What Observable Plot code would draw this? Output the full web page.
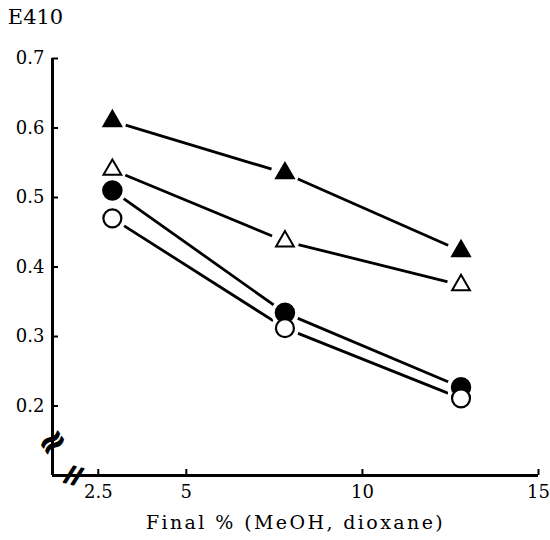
<!DOCTYPE html>
<html>
<head>
<meta charset="utf-8">
<script src="https://cdn.jsdelivr.net/npm/d3@7"></script>
<script src="https://cdn.jsdelivr.net/npm/@observablehq/plot@0.6"></script>
<style>
  html, body { margin: 0; padding: 0; background: #fff; }
  #chart svg { display: block; }
  .xtitle text { letter-spacing: 2.4px; }
</style>
</head>
<body>
<div id="chart"></div>
<script>
// Data
const finalPercent = [2.9, 7.8, 12.8];
const filledTriangle = [0.61, 0.535, 0.423];
const openTriangle = [0.54, 0.437, 0.374];
const filledCircle = [0.51, 0.334, 0.227];
const openCircle = [0.47, 0.312, 0.211];
const xTicks = [2.5, 5, 10, 15];
const yTicks = [0.2, 0.3, 0.4, 0.5, 0.6, 0.7];
const yTitle = "E410";
const xTitle = "Final % (MeOH, dioxane)";
const xBreak = [{x: 1.8, y: 0.1}];
const yBreak = [{x: 1.2, y: 0.148}];

const seriesDefs = [
  {name: "filledTriangle", values: filledTriangle, symbol: "triangle", filled: true},
  {name: "openTriangle", values: openTriangle, symbol: "triangle", filled: false},
  {name: "filledCircle", values: filledCircle, symbol: "circle", filled: true},
  {name: "openCircle", values: openCircle, symbol: "circle", filled: false}
];
const rows = seriesDefs.flatMap(s => s.values.map((v, i) => ({series: s.name, x: finalPercent[i], y: v, symbol: s.symbol, filled: s.filled})));

const font = "'DejaVu Serif', 'Liberation Serif', serif";

const chart = Plot.plot({
  width: 550,
  height: 540,
  marginLeft: 52,
  marginRight: 12,
  marginTop: 58,
  marginBottom: 65,
  style: {fontFamily: font, fontSize: "18px", color: "#000", background: "#fff"},
  x: {domain: [1.2, 15]},
  y: {domain: [0.1, 0.7]},
  marks: [
    Plot.axisX({ticks: xTicks, tickFormat: d => String(d), tickSize: -6, tickPadding: 16, strokeWidth: 2, label: null, fontSize: 18}),
    Plot.axisY({ticks: yTicks, tickFormat: d => d.toFixed(1), tickSize: -6, tickPadding: 14, strokeWidth: 2, label: null, fontSize: 18}),
    Plot.ruleX([1.2], {strokeWidth: 3}),
    Plot.ruleY([0.1], {strokeWidth: 3}),
    Plot.line(rows, {x: "x", y: "y", z: "series", stroke: "#000", strokeWidth: 2.8}),
    Plot.dot(rows, {x: "x", y: "y", r: 14, fill: "#fff", stroke: null}),
    Plot.dot(rows.filter(d => d.symbol === "triangle"), {x: "x", y: "y", symbol: "triangle", r: 6.6,
      fill: d => d.filled ? "#000" : "#fff", stroke: "#000", strokeWidth: 2}),
    Plot.dot(rows.filter(d => d.series === "filledCircle"), {x: "x", y: "y", symbol: "circle", r: 9.5, fill: "#000", stroke: "#000", strokeWidth: 1.5}),
    Plot.dot(rows.filter(d => d.series === "openCircle"), {x: "x", y: "y", symbol: "circle", r: 9, fill: "#fff", stroke: "#000", strokeWidth: 2.2}),
    Plot.text(xBreak, {x: "x", y: "y", text: () => "//", fontSize: 22, fontWeight: "bold", rotate: 15, fill: "#000", stroke: "#000", strokeWidth: 1.5}),
    Plot.text(yBreak, {x: "x", y: "y", text: () => "≈", fontSize: 34, fontWeight: "bold", rotate: -35, fill: "#000", stroke: "#000", strokeWidth: 1}),
    Plot.text([yTitle], {frameAnchor: "top-left", text: d => d, dx: -17, dy: -41, fontSize: 21, textAnchor: "middle", lineAnchor: "middle"}),
    Plot.text([xTitle], {frameAnchor: "bottom", text: d => d, dx: 0, dy: 47, fontSize: 19, lineAnchor: "middle", className: "xtitle"})
  ]
});
document.getElementById("chart").appendChild(chart);
</script>
</body>
</html>
